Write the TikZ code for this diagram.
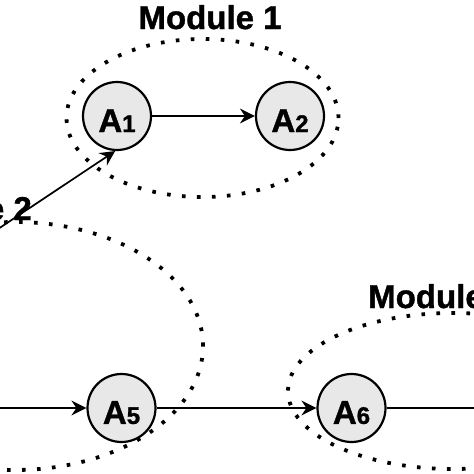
\documentclass[tikz,border=0pt]{standalone}
\usepackage{fontspec}
\setmainfont{Liberation Sans}[BoldFeatures={FakeBold=1.2}]
\usetikzlibrary{arrows.meta}
\tikzset{
  agent/.style={circle, draw=black, line width=2.2pt, fill=black!9, minimum size=68pt, inner sep=0pt, text height=32pt, font=\bfseries},
  module/.style={draw=black, line width=3.8pt, dash pattern=on 3.6pt off 11.4pt},
  flow/.style={draw=black, line width=1.7pt, -{Stealth[length=15pt, width=15pt, inset=5pt]}},
  plainflow/.style={draw=black, line width=1.7pt},
  modlabel/.style={font=\fontsize{33}{36}\selectfont\bfseries, inner sep=0pt}
}
\newcommand{\agentname}[1]{{\fontsize{33}{36}\selectfont A}{\fontsize{24}{26}\selectfont #1}}
\begin{document}
\begin{tikzpicture}[x=1pt,y=-1pt]
\useasboundingbox (0,0) rectangle (474,474);
\clip (0,0) rectangle (474,474);
% module outlines
\draw[module] (202.5,118) ellipse [x radius=136pt, y radius=79pt];
\draw[module] (15,346) ellipse [x radius=188pt, y radius=124pt];
\draw[module] (453,391) ellipse [x radius=165pt, y radius=78pt];
% module labels
\node[modlabel, anchor=base] (m1) at (210,29) {Module 1};
\node[modlabel, anchor=base east] (m2) at (32,220) {Module 2};
\node[modlabel, anchor=base west] (m3) at (368,308) {Module 3};
% agents
\node[agent] (A1) at (117,116) {\agentname{1}};
\node[agent] (A2) at (290,116) {\agentname{2}};
\node[agent] (A5) at (121.5,408) {\agentname{5}};
\node[agent] (A6) at (351.5,408) {\agentname{6}};
% outside ends
\coordinate (inA1) at (-20,241);
\coordinate (inA5) at (-20,408);
\coordinate (outA6) at (500,408);
% connectors
\draw[flow] (A1) -- (A2);
\draw[flow] (inA1) -- (A1.-93);
\draw[flow] (inA5) -- (A5);
\draw[flow] (A5) -- (A6);
\draw[plainflow] (A6) -- (outA6);
\end{tikzpicture}
\end{document}
